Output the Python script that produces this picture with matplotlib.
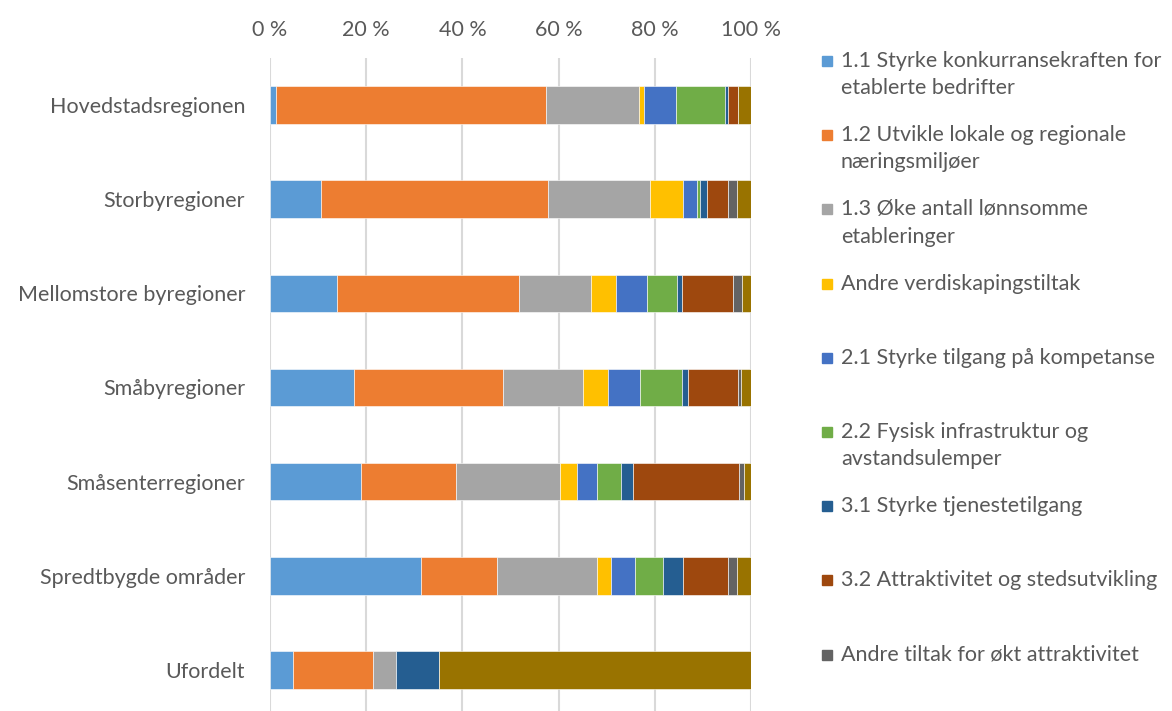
import matplotlib.pyplot as plt
import numpy as np
from matplotlib.patches import Rectangle

plt.rcParams['font.family'] = ['Lato', 'DejaVu Sans']

regions = ["Hovedstadsregionen", "Storbyregioner", "Mellomstore byregioner",
           "Småbyregioner", "Småsenterregioner", "Spredtbygde områder", "Ufordelt"]

series = ["1.1 Styrke konkurransekraften for\netablerte bedrifter",
          "1.2 Utvikle lokale og regionale\nnæringsmiljøer",
          "1.3 Øke antall lønnsomme\netableringer",
          "Andre verdiskapingstiltak",
          "2.1 Styrke tilgang på kompetanse",
          "2.2 Fysisk infrastruktur og\navstandsulemper",
          "3.1 Styrke tjenestetilgang",
          "3.2 Attraktivitet og stedsutvikling",
          "Andre tiltak for økt attraktivitet",
          "Ikke fordelt"]

colors = ["#5B9BD5", "#ED7D31", "#A5A5A5", "#FFC000", "#4472C4",
          "#70AD47", "#255E91", "#9E480E", "#636363", "#997300"]

# share (%) per region, one list per series
s11 = [1.2, 10.6, 13.9, 17.5, 18.9, 31.4, 4.7]
s12 = [56.2, 47.1, 37.9, 30.9, 19.8, 15.8, 16.7]
s13 = [19.4, 21.4, 14.9, 16.7, 21.6, 20.8, 4.8]
andre_verdi = [1.0, 6.7, 5.2, 5.2, 3.5, 2.8, 0.0]
s21 = [6.7, 2.9, 6.5, 6.7, 4.1, 5.0, 0.0]
s22 = [10.1, 0.6, 6.3, 8.6, 5.1, 5.8, 0.0]
s31 = [0.7, 1.6, 1.0, 1.4, 2.4, 4.3, 8.9]
s32 = [1.9, 4.4, 10.5, 10.2, 22.2, 9.4, 0.0]
andre_attr = [0.1, 1.7, 1.9, 0.8, 1.0, 1.7, 0.0]
ikke_fordelt = [2.8, 3.0, 1.8, 1.9, 1.5, 3.0, 64.9]

values = [s11, s12, s13, andre_verdi, s21, s22, s31, s32, andre_attr, ikke_fordelt]

fig = plt.figure(figsize=(11.72, 7.11), dpi=100)
ax = fig.add_axes([0.2304, -0.0084, 0.4104, 0.9268])

y = np.arange(len(regions))
left = np.zeros(len(regions))
for vals, col, lab in zip(values, colors, series):
    vals = np.array(vals)
    ax.barh(y, vals, left=left, height=0.4, color=col, label=lab,
            edgecolor="white", linewidth=0.4, zorder=3)
    left += vals

ax.set_xlim(0, 100)
ax.set_ylim(6.5, -0.5)
ax.set_yticks(y)
ax.set_yticklabels(regions)
ax.set_xticks(np.arange(0, 101, 20))
ax.set_xticklabels([f"{v} %" for v in range(0, 101, 20)])
ax.xaxis.tick_top()
ax.tick_params(axis="x", length=0, pad=13, labelsize=15.5, labelcolor="#595959")
ax.tick_params(axis="y", length=0, pad=18, labelsize=15.5, labelcolor="#595959")
ax.grid(axis="x", color="#D9D9D9", linewidth=1.5, zorder=0)
for sp in ax.spines.values():
    sp.set_visible(False)

# legend (Excel style, evenly spaced, last series not shown)
y0 = 1 - 61 / 711
dy = 74.2 / 711
for i in range(9):
    yy = y0 - i * dy
    fig.patches.append(Rectangle((822 / 1172, yy - 5 / 711), 10 / 1172, 10 / 711,
                                 transform=fig.transFigure, color=colors[i]))
    fig.text(841 / 1172, yy + 10 / 711, series[i], fontsize=15.5, color="#595959",
             va="top", ha="left", linespacing=1.45)

fig.savefig("out.png", dpi=100)
